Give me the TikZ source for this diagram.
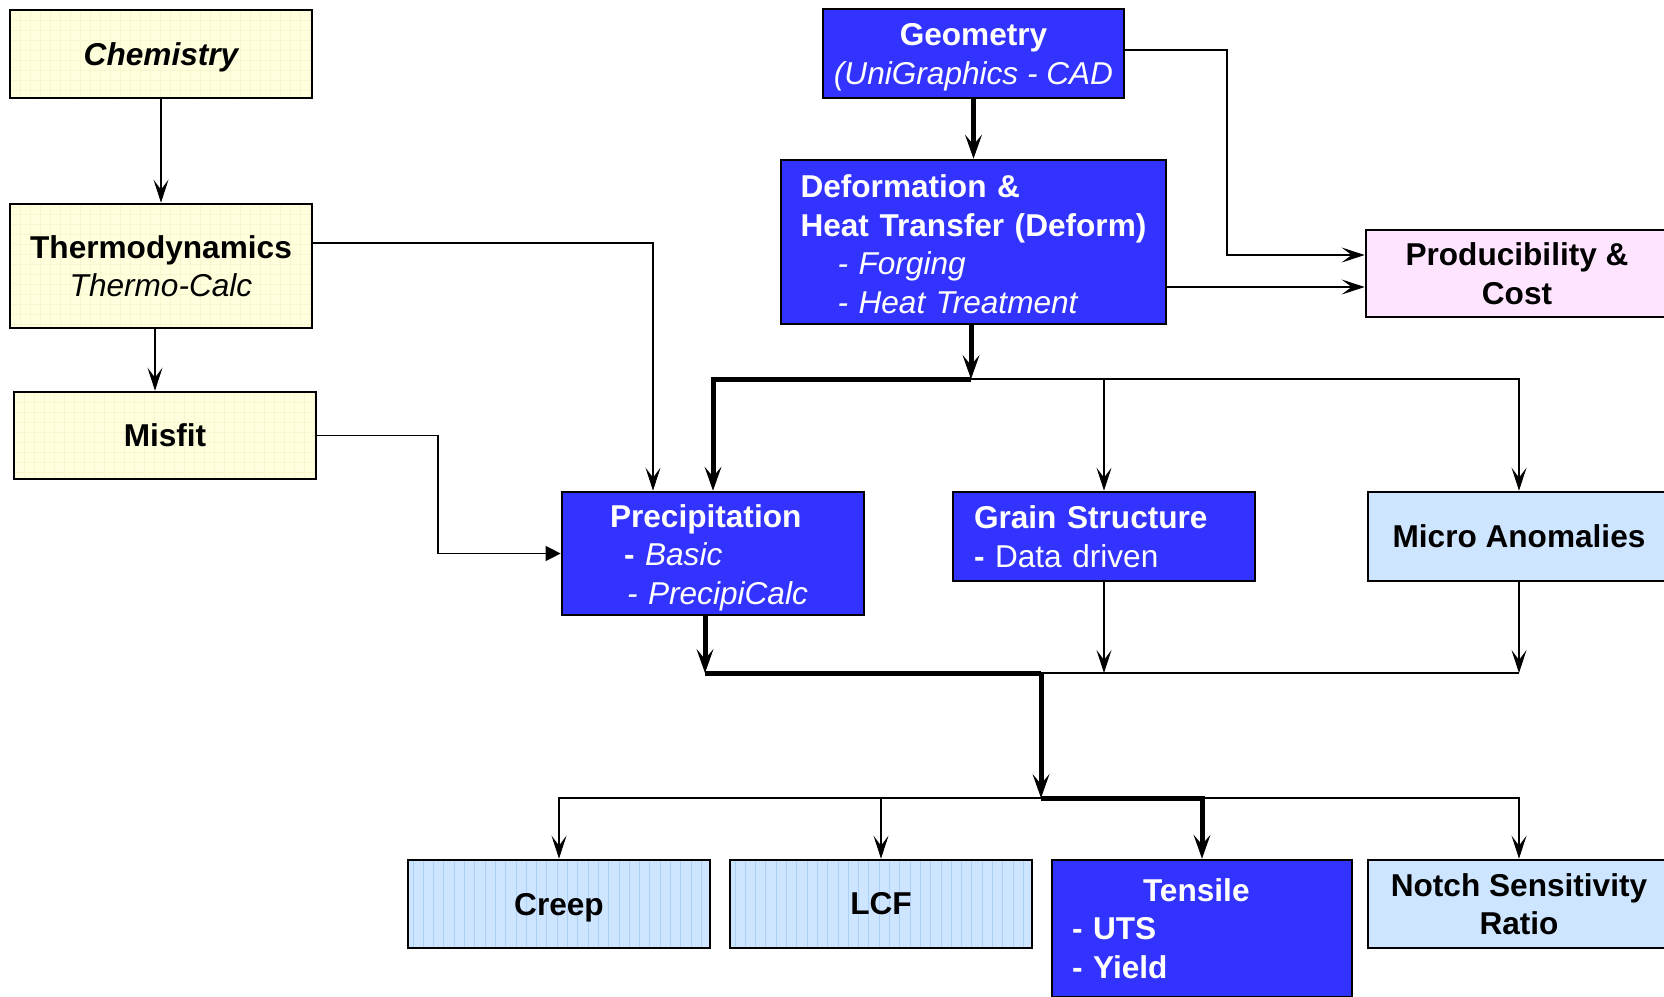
\documentclass[tikz,border=0pt]{standalone}
\usepackage{fontspec}
\setmainfont{Liberation Sans}
\usetikzlibrary{arrows.meta,calc}

\definecolor{ylw}{RGB}{255,255,222}
\definecolor{ylwgrid}{RGB}{247,247,206}
\definecolor{blu}{RGB}{51,51,255}
\definecolor{pnk}{RGB}{255,228,255}
\definecolor{lblu}{RGB}{206,229,255}
\definecolor{hatch}{RGB}{172,208,250}

\newcommand\boxfont{\fontsize{31.6pt}{38.5pt}\selectfont\bfseries}
\newcommand\plainit{\mdseries\itshape}
% invisible strut that lowers a centred text block
\newcommand\lowerby[1]{\rule{0pt}{#1}}

\tikzset{
  box/.style={draw=black, line width=2.7pt, minimum width=302pt, inner sep=0pt,
              font=\boxfont},
  ybox/.style={box, fill=ylw,
    path picture={
      \foreach \k in {0,10,...,320} {
        \draw[ylwgrid, line width=0.6pt]
          ([xshift=\k pt]path picture bounding box.north west) --
          ([xshift=\k pt]path picture bounding box.south west);
      }
      \foreach \k in {0,10,...,140} {
        \draw[ylwgrid, line width=0.6pt]
          ([yshift=-\k pt]path picture bounding box.north west) --
          ([yshift=-\k pt]path picture bounding box.north east);
      }
    }},
  bbox/.style={box, fill=blu, text=white},
  pbox/.style={box, fill=pnk},
  lbox/.style={box, fill=lblu},
  hbox/.style={box, fill=lblu,
    path picture={
      \foreach \k in {5,15.3,...,320} {
        \draw[hatch, line width=0.9pt]
          ([xshift=\k pt]path picture bounding box.north west) --
          ([xshift=\k pt]path picture bounding box.south west);
      }
    }},
  thinarrow/.style={line width=1.3pt,
    -{Stealth[length=23pt, width=15pt, inset=10pt, line width=1pt]}},
  thinline/.style={line width=1.3pt},
  thickarrow/.style={line width=5pt,
    -{Stealth[length=24pt, width=17pt, inset=10pt, line width=1pt]}},
  thickline/.style={line width=5pt},
  triarrow/.style={line width=1.3pt,
    -{Triangle[length=15pt, width=15pt]}},
}

\begin{document}
\begin{tikzpicture}[x=1pt, y=-1pt]
\clip (0,0) rectangle (1664,996);
\fill[white] (0,0) rectangle (1664,996);

% ---- materials column ----
\node[ybox, minimum height=88pt, text depth=0pt] (chem) at (161,54)
  {\itshape Chemistry};
\node[ybox, minimum height=124pt, align=center] (thermo) at (161,266)
  {Thermodynamics\\{\plainit Thermo-Calc}};
\node[ybox, minimum height=87pt] (misfit) at (165,435.5) {Misfit};

% ---- process column ----
\node[bbox, minimum width=301pt, minimum height=89pt, align=center] (geom)
  at (973.5,53.5) {\lowerby{30pt}Geometry\\{\plainit (UniGraphics - CAD}};
\node[bbox, minimum width=385pt, minimum height=164pt, text width=346pt,
      align=left] (deform) at (973.5,242)
  {\lowerby{27pt}Deformation \&\\Heat Transfer (Deform)\\
   \hspace*{37pt}{\plainit - Forging}\\
   \hspace*{37pt}{\plainit - Heat Treatment}};
\node[pbox, minimum height=87pt, align=center] (prod) at (1517,273.5)
  {Producibility \&\\Cost};

% ---- microstructure row ----
\node[bbox, minimum height=123pt, text width=206pt, align=left] (precip)
  at (713,553.5)
  {\lowerby{31pt}Precipitation\\
   \hspace*{14pt}- {\plainit Basic}\\
   \hspace*{17pt}{\plainit - PrecipiCalc}};
\node[bbox, minimum height=89pt, text width=260pt, align=left] (grain)
  at (1104,536.5) {Grain Structure\\- {\mdseries Data driven}};
\node[lbox, minimum height=89pt] (micro) at (1519,536.5) {Micro Anomalies};

% ---- properties row ----
\node[hbox, minimum height=88pt, text depth=0pt] (creep) at (559,904) {Creep};
\node[hbox, minimum height=88pt] (lcf) at (881,904) {LCF};
\node[bbox, minimum width=300pt, minimum height=137pt, text width=260pt,
      align=left] (tensile) at (1202,928.5)
  {\hspace*{71pt}Tensile\\- UTS\\- Yield};
\node[lbox, minimum height=88pt, align=center] (notch) at (1519,904)
  {Notch Sensitivity\\Ratio};

% ---- junction points ----
\coordinate (j1) at (971,379);
\coordinate (j2) at (1041,673);
\coordinate (j3) at (1041,798);
\coordinate (mx) at (438,435.5);
\coordinate (gbend) at (1227,255);
\coordinate (d2p) at ([yshift=-45pt]deform.east);
\coordinate (t2p) at ([yshift=23pt]thermo.east);
\coordinate (pdrop) at ([xshift=-8pt]precip.south);

% ---- thin connectors ----
\draw[thinarrow] (chem.south) -- (thermo.north);
\draw[thinarrow] ([xshift=-6pt]thermo.south) --
  ([xshift=-6pt]thermo.south |- misfit.north);
\draw[thinarrow] (t2p) -| ([xshift=-60pt]precip.north);
\draw[triarrow] (misfit.east) -- (mx) |- (precip.west);
\draw[thinarrow] ([yshift=3.5pt]geom.east) -| (gbend) -- (gbend -| prod.west);
\draw[thinarrow] (d2p) -- (d2p -| prod.west);

\draw[thinarrow] (j1) -| (micro.north);
\draw[thinarrow] (j1 -| grain.north) -- (grain.north);

\draw[thinline] (j2) -- (j2 -| micro.south);
\draw[thinarrow] (grain.south) -- (grain.south |- j2);
\draw[thinarrow] (micro.south) -- (micro.south |- j2);

\draw[thinarrow] (j3) -| (creep.north);
\draw[thinarrow] (j3) -| (notch.north);
\draw[thinarrow] (j3 -| lcf.north) -- (lcf.north);

% ---- thick (main) path ----
\draw[thickarrow] (geom.south) -- (deform.north);
\draw[thickarrow] (deform.south -| j1) -- (j1);
\draw[thickarrow] (j1) -| (precip.north);
\draw[thickarrow] (pdrop) -- (pdrop |- j2);
\draw[thickline] (pdrop |- j2) -- (j2);
\draw[thickarrow] (j2) -- (j3);
\draw[thickarrow] (j3) -| (tensile.north);
\end{tikzpicture}
\end{document}
